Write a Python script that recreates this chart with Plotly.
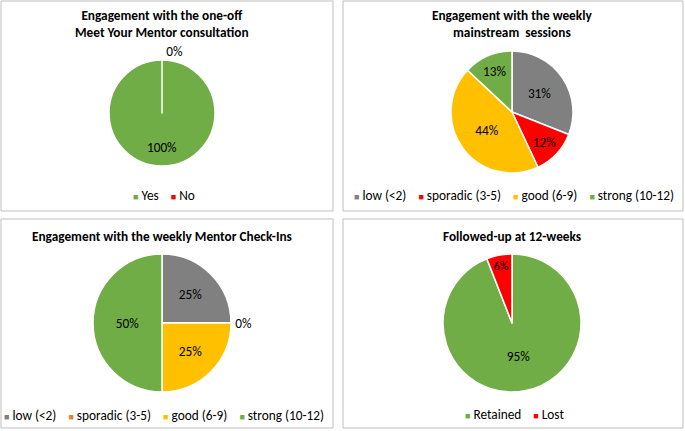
import plotly.graph_objects as go

# ---- data ----
consult_labels = ["Yes", "No"]
consult_values = [100, 0]
consult_colors = ["#70AD47", "#FF0000"]

mainstream_labels = ["low (<2)", "sporadic (3-5)", "good (6-9)", "strong (10-12)"]
mainstream_values = [31, 12, 44, 13]
mainstream_colors = ["#808080", "#FF0000", "#FFC000", "#70AD47"]

checkin_labels = ["low (<2)", "sporadic (3-5)", "good (6-9)", "strong (10-12)"]
checkin_values = [25, 0, 25, 50]
checkin_colors = ["#808080", "#ED7D31", "#FFC000", "#70AD47"]

followup_labels = ["Retained", "Lost"]
followup_values = [95, 6]
followup_colors = ["#70AD47", "#FF0000"]

W, H = 685, 431
FONT = "Carlito, Calibri, 'Liberation Sans', Arial, sans-serif"
FS = 13.3


def px(x0, x1):
    return [x0 / W, x1 / W]


def py(y0, y1):
    # pixel rows from top -> paper coords
    return [1 - y1 / H, 1 - y0 / H]


def pct_text(values):
    # a slice that fills the whole pie gets its label pushed down, like Excel does
    total = sum(values)
    return [("&nbsp;<br>" * 4 + f"{v}%") if v == total else f"{v}%" for v in values]


panels = [
    dict(title="Engagement with the one-off<br>Meet Your Mentor consultation", ty=24,
         cx=162, cy=113, r=53, ly=195, labels=consult_labels, values=consult_values,
         colors=consult_colors, pos=["inside", "outside"]),
    dict(title="Engagement with the weekly<br>mainstream  sessions", ty=24,
         cx=512, cy=112, r=61, ly=195, labels=mainstream_labels, values=mainstream_values,
         colors=mainstream_colors, pos=["inside"] * 4),
    dict(title="Engagement with the weekly Mentor Check-Ins", ty=236,
         cx=162, cy=323, r=69, ly=415, labels=checkin_labels, values=checkin_values,
         colors=checkin_colors, pos=["inside", "outside", "inside", "inside"]),
    dict(title="Followed-up at 12-weeks", ty=236,
         cx=512, cy=323, r=69, ly=414, labels=followup_labels, values=followup_values,
         colors=followup_colors, pos=["inside", "inside"]),
]

fig = go.Figure()
annotations = []
shapes = []

for p in panels:
    fig.add_trace(go.Pie(
        labels=p["labels"],
        values=p["values"],
        text=pct_text(p["values"]),
        textinfo="text",
        textposition=p["pos"],
        insidetextorientation="horizontal",
        sort=False,
        direction="clockwise",
        rotation=0,
        marker=dict(colors=p["colors"], line=dict(color="white", width=1.5)),
        textfont=dict(family=FONT, size=FS, color="black"),
        domain=dict(x=px(p["cx"] - p["r"], p["cx"] + p["r"]),
                    y=py(p["cy"] - p["r"], p["cy"] + p["r"])),
        showlegend=False,
        hoverinfo="label+percent",
    ))

    annotations.append(dict(
        text=f"<b>{p['title']}</b>", x=p["cx"] / W, y=1 - p["ty"] / H,
        xref="paper", yref="paper", showarrow=False, xanchor="center", yanchor="middle",
        font=dict(family=FONT, size=FS, color="black"),
    ))

    # legend row built from the same labels and colours
    items = [f'<span style="color:{c};font-size:9px">■</span> {l.replace("<", "&lt;")}'
             for l, c in zip(p["labels"], p["colors"])]
    annotations.append(dict(
        text="&nbsp;&nbsp;&nbsp;&nbsp;".join(items), x=(p["cx"] + 2) / W, y=1 - p["ly"] / H,
        xref="paper", yref="paper", showarrow=False, xanchor="center", yanchor="middle",
        font=dict(family=FONT, size=FS, color="black"),
    ))

# panel frames
for x0, y0, x1, y1 in [(1, 1, 333, 211), (343, 1, 683, 211), (1, 219, 333, 428), (343, 219, 683, 428)]:
    shapes.append(dict(type="rect", xref="paper", yref="paper",
                       x0=x0 / W, x1=x1 / W, y0=1 - y1 / H, y1=1 - y0 / H,
                       line=dict(color="#BFBFBF", width=1), fillcolor="rgba(0,0,0,0)"))

fig.update_layout(
    width=W, height=H,
    margin=dict(l=0, r=0, t=0, b=0),
    paper_bgcolor="white",
    plot_bgcolor="white",
    annotations=annotations,
    shapes=shapes,
    showlegend=False,
)

# drop the browser's default body margin so the figure sits at the window origin
fig.write_html("out.html", config={"displayModeBar": False},
               post_script="document.body.style.margin='0';document.body.style.overflow='hidden';")
